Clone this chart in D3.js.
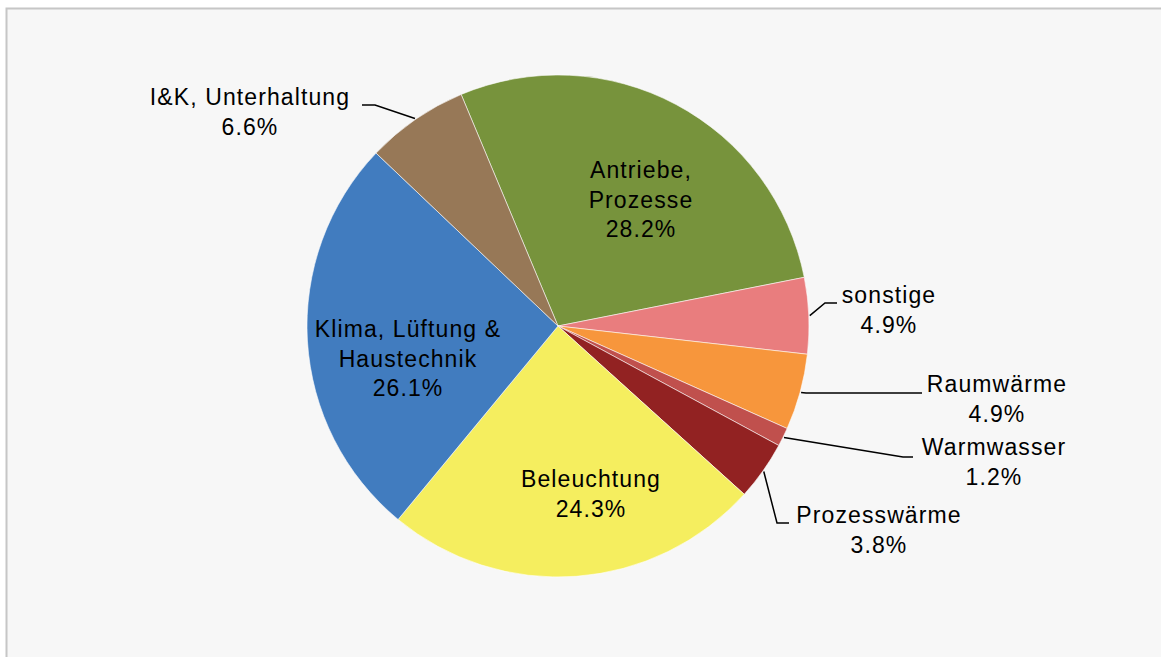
<!DOCTYPE html>
<html>
<head>
<meta charset="utf-8">
<script src="https://cdn.jsdelivr.net/npm/d3@7"></script>
<style>
  html, body { margin: 0; padding: 0; background: #ffffff; }
  svg { display: block; }
</style>
</head>
<body>
<div class="energy-chart"></div>
<script>
// data, in drawing order (clockwise)
const categories = ["Antriebe, Prozesse", "sonstige", "Raumwärme", "Warmwasser",
    "Prozesswärme", "Beleuchtung", "Klima, Lüftung & Haustechnik", "I&K, Unterhaltung"];
const shares = [28.2, 4.9, 4.9, 1.2, 3.8, 24.3, 26.1, 6.6];
const labelLines = [
    ["Antriebe,", "Prozesse"],
    ["sonstige"],
    ["Raumwärme"],
    ["Warmwasser"],
    ["Prozesswärme"],
    ["Beleuchtung"],
    ["Klima, Lüftung &", "Haustechnik"],
    ["I&K, Unterhaltung"]
];

const colors = ["#77933C", "#E97D7E", "#F7963C", "#C0504D", "#922222", "#F5EE5F", "#417CBF", "#977857"];

const width = 1161, height = 657;
const cx = 558, cy = 326, radius = 251;
const fontSize = 23, lineHeight = 29.5;

// label layout: inside labels get a centre point, outside ones a leader (elbow, end) and text anchor
const labelLayout = [
    {inside: true, x: 641, y: 178},
    {inside: false, elbow: [825, 303], end: [837, 303], x: 889, y: 303},
    {inside: false, elbow: [806, 393], end: [922, 393], x: 997, y: 392},
    {inside: false, elbow: [903, 457], end: [913, 457], x: 994, y: 455},
    {inside: false, elbow: [777, 523], end: [789, 523], x: 879, y: 523},
    {inside: true, x: 591, y: 487},
    {inside: true, x: 408, y: 337},
    {inside: false, elbow: [375, 105], end: [362, 105], x: 250, y: 105}
];

const data = categories.map((c, i) => ({name: c, value: shares[i], lines: labelLines[i], layout: labelLayout[i]}));

const svg = d3.select(".energy-chart").append("svg")
    .attr("width", width)
    .attr("height", height);

// chart frame
svg.append("rect")
    .attr("x", 6.5)
    .attr("y", 8.5)
    .attr("width", width + 20)
    .attr("height", height + 20)
    .attr("fill", "#F7F7F7")
    .attr("stroke", "#C6C6C6")
    .attr("stroke-width", 2);

const startAngle = -22.7 * Math.PI / 180;

const pie = d3.pie()
    .value(d => d.value)
    .sort(null)
    .startAngle(startAngle)
    .endAngle(startAngle + 2 * Math.PI);

const arc = d3.arc()
    .innerRadius(0)
    .outerRadius(radius);

const edgeArc = d3.arc()
    .innerRadius(radius + 1)
    .outerRadius(radius + 1);

const arcs = pie(data);

const g = svg.append("g")
    .attr("transform", `translate(${cx},${cy})`);

g.selectAll("path.slice")
    .data(arcs)
    .join("path")
    .attr("class", "slice")
    .attr("d", arc)
    .attr("fill", (d, i) => colors[i])
    .attr("stroke", "#ffffff")
    .attr("stroke-width", 0.8)
    .attr("stroke-opacity", 0.7);

// leader lines for outside labels
const leader = d3.line();

svg.selectAll("path.leader")
    .data(arcs.filter(d => !d.data.layout.inside))
    .join("path")
    .attr("class", "leader")
    .attr("fill", "none")
    .attr("stroke", "#000000")
    .attr("stroke-width", 1.5)
    .attr("d", d => {
        const p = edgeArc.centroid(d);
        return leader([[cx + p[0], cy + p[1]], d.data.layout.elbow, d.data.layout.end]);
    });

// labels: category lines + percentage
const labels = svg.selectAll("text.label")
    .data(arcs)
    .join("text")
    .attr("class", "label")
    .attr("text-anchor", "middle")
    .attr("font-family", "'Liberation Sans', Arial, sans-serif")
    .attr("font-size", fontSize)
    .attr("letter-spacing", 1.1)
    .attr("fill", "#000000");

labels.each(function(d) {
    const t = d3.select(this);
    const lay = d.data.layout;
    const rows = d.data.lines.concat([d3.format(".1f")(d.data.value) + "%"]);
    rows.forEach((row, k) => {
        t.append("tspan")
            .attr("x", lay.x)
            .attr("y", lay.y + k * lineHeight)
            .text(row);
    });
});
</script>
</body>
</html>
